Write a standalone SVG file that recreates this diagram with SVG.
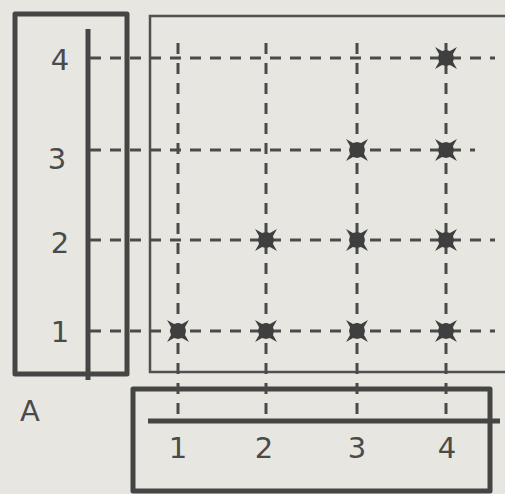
<svg xmlns="http://www.w3.org/2000/svg" width="505" height="494" viewBox="0 0 505 494">
<style>
.bg{fill:#e7e6e1}
.thick{fill:none;stroke:#454545;stroke-width:5;stroke-linejoin:round}
.thin{fill:none;stroke:#505050;stroke-width:2.5}
.dash{fill:none;stroke:#4a4a4a;stroke-width:3;stroke-dasharray:11 9}
.lbl{font-family:"DejaVu Sans","Liberation Sans",sans-serif;font-size:29px;fill:#4a4a4a;text-anchor:middle}
.star{fill:#3f3f3f}
</style>
<defs>
<symbol id="st" viewBox="-12 -12 24 24" overflow="visible">
<polygon class="star" points="-11,-11 -4,-7 0,-8 4,-7 11,-11 7,-4 8,0 7,4 11,11 4,7 0,8 -4,7 -11,11 -7,4 -8,0 -7,-4"/>
</symbol>
</defs>
<rect class="bg" x="0" y="0" width="505" height="494"/>
<g id="axisA">
<rect class="thick" x="15" y="14" width="112" height="360"/>
<line class="thick" x1="88" y1="29" x2="88" y2="380"/>
<text class="lbl" x="60" y="70">4</text>
<text class="lbl" x="57" y="169">3</text>
<text class="lbl" x="60" y="253">2</text>
<text class="lbl" x="60" y="342">1</text>
<text class="lbl" x="30" y="421">A</text>
</g>
<g id="matrix">
<polyline class="thin" points="510,16 150,16 150,372 510,372"/>
</g>
<g id="axisB">
<rect class="thick" x="133" y="389" width="357" height="102"/>
<line class="thick" x1="148" y1="421" x2="500" y2="421"/>
<text class="lbl" x="178" y="458">1</text>
<text class="lbl" x="264" y="458">2</text>
<text class="lbl" x="357" y="458">3</text>
<text class="lbl" x="447" y="458">4</text>
</g>
<g id="connectors">
<line class="dash" x1="90" y1="58" x2="495" y2="58"/>
<line class="dash" x1="90" y1="150" x2="475" y2="150"/>
<line class="dash" x1="90" y1="240" x2="495" y2="240"/>
<line class="dash" x1="90" y1="331" x2="495" y2="331"/>
<line class="dash" x1="178" y1="43" x2="178" y2="421"/>
<line class="dash" x1="266" y1="43" x2="266" y2="421"/>
<line class="dash" x1="357" y1="43" x2="357" y2="421"/>
<line class="dash" x1="446" y1="43" x2="446" y2="421"/>
</g>
<g id="marks">
<use href="#st" x="166" y="319" width="24" height="24"/>
<use href="#st" x="254" y="228" width="24" height="24"/>
<use href="#st" x="254" y="319" width="24" height="24"/>
<use href="#st" x="345" y="319" width="24" height="24"/>
<use href="#st" x="434" y="319" width="24" height="24"/>
<use href="#st" x="345" y="228" width="24" height="24"/>
<use href="#st" x="434" y="228" width="24" height="24"/>
<use href="#st" x="345" y="138" width="24" height="24"/>
<use href="#st" x="434" y="138" width="24" height="24"/>
<use href="#st" x="434" y="46" width="24" height="24"/>
</g>
</svg>
